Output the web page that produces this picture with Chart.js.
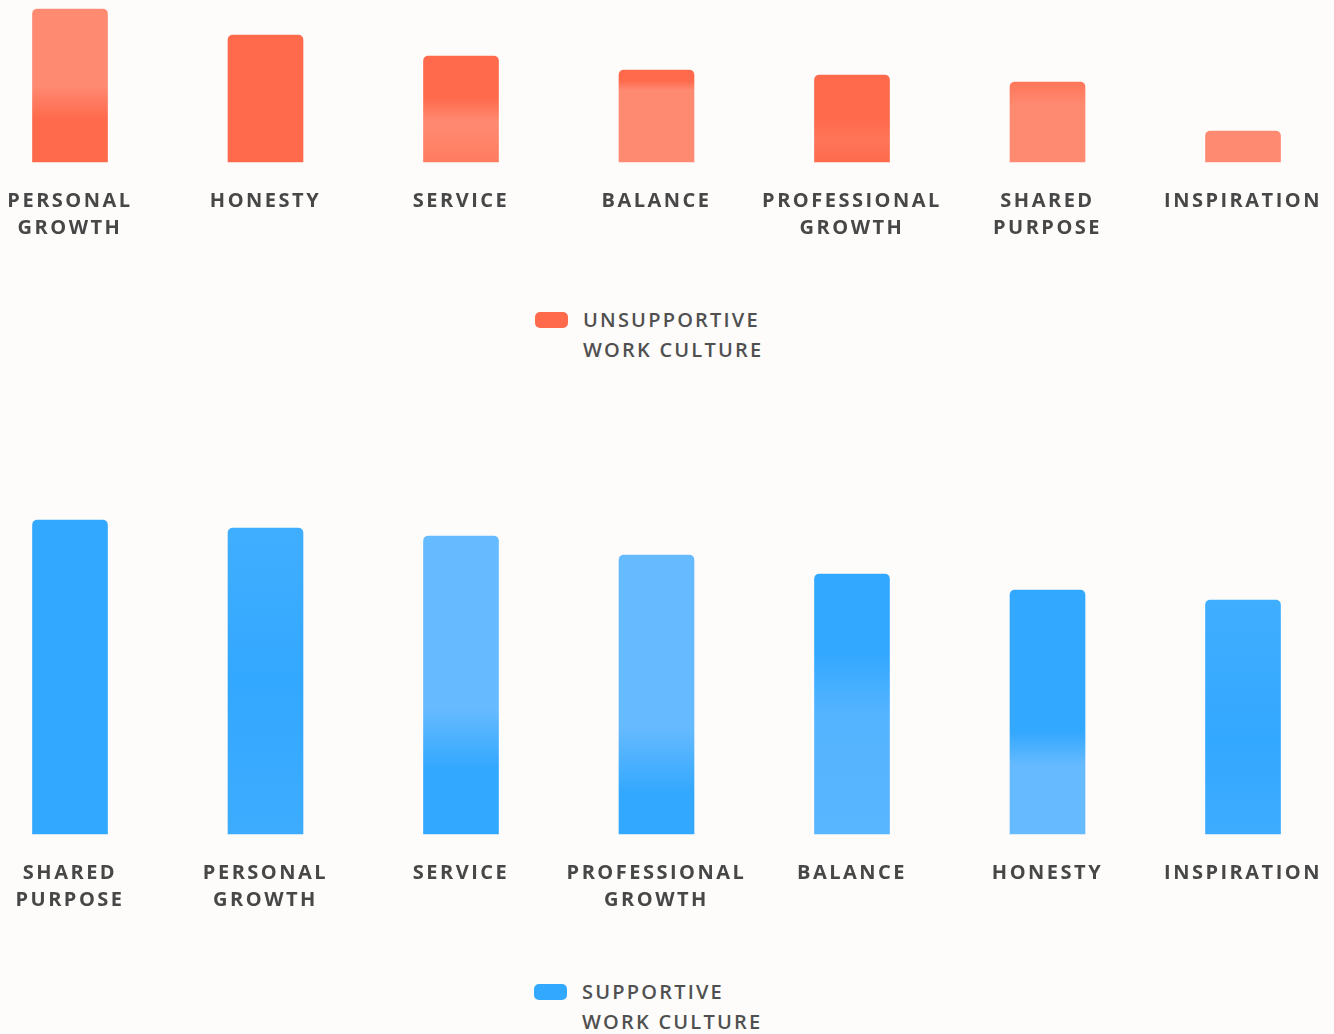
<!DOCTYPE html>
<html>
<head>
<meta charset="utf-8">
<script src="https://cdn.jsdelivr.net/npm/chart.js@4.4.1/dist/chart.umd.min.js"></script>
<style>
  html, body { margin: 0; padding: 0; background: #fdfcfb; }
  body { width: 1334px; height: 1034px; position: relative; overflow: hidden; font-family: "Open Sans", sans-serif; }
  .box { position: absolute; left: 0; width: 1334px; }
  #topBox { top: 0; height: 250px; }
  #bottomBox { top: 470px; height: 452px; }
  .legend { position: absolute; color: #505050; font-size: 20px; font-weight: 600; letter-spacing: 2.2px; line-height: 30px; }
  .legend i { position: absolute; left: -48px; top: 7px; width: 33px; height: 16px; border-radius: 5px; }
</style>
</head>
<body>
<div class="box" id="topBox"><canvas id="topChart"></canvas></div>
<div class="box" id="bottomBox"><canvas id="bottomChart"></canvas></div>
<div class="legend" style="left:583px; top:305px;"><i style="background:#ff6a4c"></i>UNSUPPORTIVE<br>WORK CULTURE</div>
<div class="legend" style="left:582px; top:977px;"><i style="background:#33a8ff"></i>SUPPORTIVE<br>WORK CULTURE</div>
<script>
// unsupportive work culture
const topLabels = [["PERSONAL", "GROWTH"], "HONESTY", "SERVICE", "BALANCE", ["PROFESSIONAL", "GROWTH"], ["SHARED", "PURPOSE"], "INSPIRATION"];
const topValues = [153, 127, 106, 92, 87, 80, 31];

// supportive work culture
const bottomLabels = [["SHARED", "PURPOSE"], ["PERSONAL", "GROWTH"], "SERVICE", ["PROFESSIONAL", "GROWTH"], "BALANCE", "HONESTY", "INSPIRATION"];
const bottomValues = [314, 306, 298, 279, 260, 244, 234];

const ORANGE = "#ff6a4c", ORANGE_LIGHT = "#ff8a72";
const BLUE = "#33a8ff", BLUE_LIGHT = "#66baff";

// rough brush texture: vertical colour stops per bar (0 = top, 1 = bottom)
const topShades = [
  [[0, ORANGE_LIGHT], [0.5, ORANGE_LIGHT], [0.72, ORANGE], [1, ORANGE]],
  [[0, ORANGE], [1, ORANGE]],
  [[0, ORANGE], [0.4, ORANGE], [0.62, ORANGE_LIGHT], [1, "#ff7c60"]],
  [[0, ORANGE], [0.12, ORANGE], [0.22, ORANGE_LIGHT], [1, ORANGE_LIGHT]],
  [[0, ORANGE], [0.5, ORANGE], [0.75, "#ff7458"], [1, ORANGE]],
  [[0, "#ff7658"], [0.3, ORANGE_LIGHT], [1, ORANGE_LIGHT]],
  [[0, ORANGE_LIGHT], [1, ORANGE_LIGHT]],
];
const bottomShades = [
  [[0, BLUE], [1, BLUE]],
  [[0, "#40aeff"], [0.5, BLUE], [1, "#3dacff"]],
  [[0, BLUE_LIGHT], [0.58, BLUE_LIGHT], [0.78, BLUE], [1, BLUE]],
  [[0, BLUE_LIGHT], [0.62, BLUE_LIGHT], [0.85, BLUE], [1, BLUE]],
  [[0, BLUE], [0.3, BLUE], [0.55, "#55b4ff"], [1, "#58b5ff"]],
  [[0, BLUE], [0.58, BLUE], [0.72, BLUE_LIGHT], [1, BLUE_LIGHT]],
  [[0, "#40aeff"], [0.6, BLUE], [1, "#3dacff"]],
];

function shadeFor(shades) {
  return (context) => {
    const chart = context.chart;
    const y = chart.scales?.y;
    const stops = shades[context.dataIndex];
    if (!y || !stops) return stops ? stops[0][1] : "#ccc";
    const top = y.getPixelForValue(context.raw);
    const base = y.getPixelForValue(0);
    if (!Number.isFinite(top) || !Number.isFinite(base) || base - top < 1) return stops[0][1];
    const grad = chart.ctx.createLinearGradient(0, top, 0, base);
    stops.forEach(([at, color]) => grad.addColorStop(at, color));
    return grad;
  };
}

const spacing = {
  id: "spacing",
  beforeDraw(chart) { chart.ctx.letterSpacing = "2.5px"; },
};

function makeChart(id, labels, values, shades, yMax) {
  return new Chart(document.getElementById(id), {
    type: "bar",
    data: {
      labels,
      datasets: [{
        data: values,
        backgroundColor: shadeFor(shades),
        barThickness: 75,
        borderRadius: { topLeft: 5, topRight: 5 },
        borderSkipped: "start",
        clip: false,
      }],
    },
    options: {
      responsive: true,
      maintainAspectRatio: false,
      animation: false,
      layout: { padding: { left: 70, right: 91, top: 0, bottom: 0 } },
      plugins: { legend: { display: false }, tooltip: { enabled: false } },
      scales: {
        x: {
          offset: false,
          grid: { display: false, drawTicks: false },
          border: { display: false },
          ticks: {
            color: "#474747",
            padding: 26,
            maxRotation: 0,
            autoSkip: false,
            font: { family: "'Open Sans', sans-serif", size: 20, weight: "bold", lineHeight: 1.35 },
          },
          afterFit(scale) {
            scale.height = 88;
            scale.paddingLeft = 0;
            scale.paddingRight = 0;
          },
        },
        y: { display: false, min: 0, max: yMax },
      },
    },
    plugins: [spacing],
  });
}

makeChart("topChart", topLabels, topValues, topShades, 162);
makeChart("bottomChart", bottomLabels, bottomValues, bottomShades, 364);
</script>
</body>
</html>
